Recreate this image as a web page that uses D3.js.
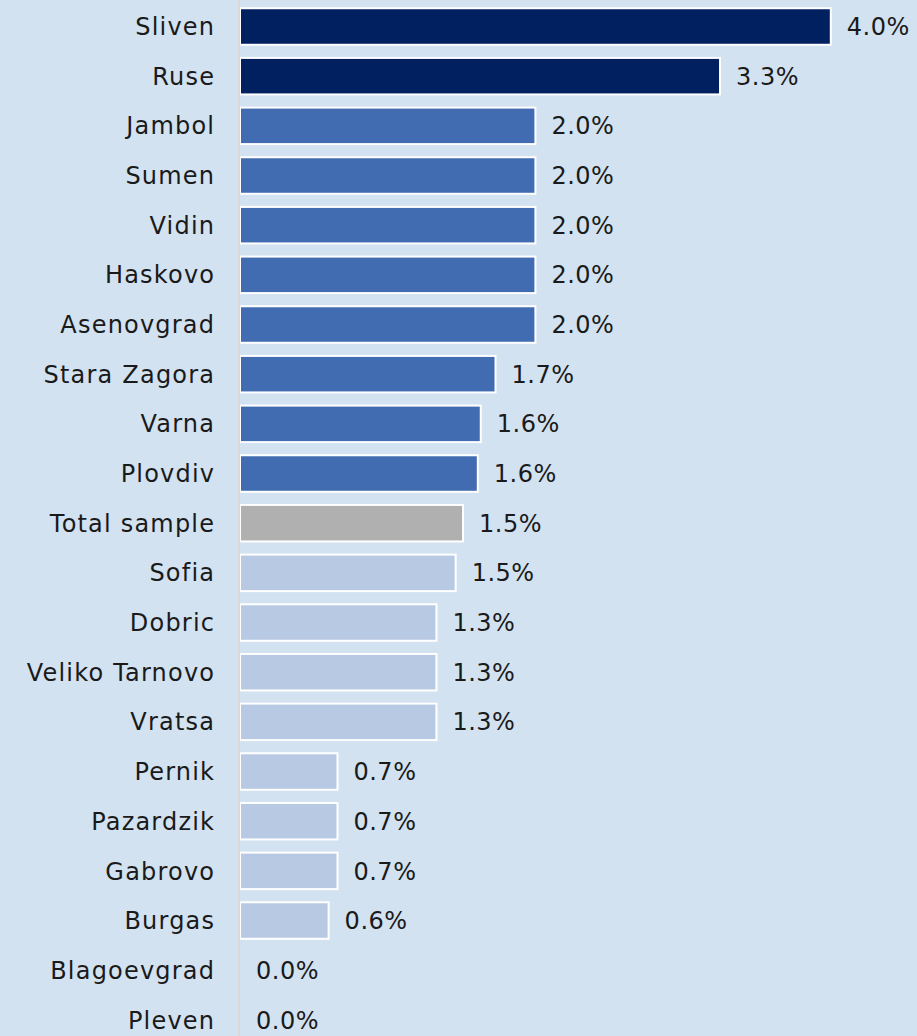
<!DOCTYPE html>
<html>
<head>
<meta charset="utf-8">
<script src="https://cdn.jsdelivr.net/npm/d3@7"></script>
<style>
  html, body { margin: 0; padding: 0; background: #d2e2f1; }
  svg { display: block; }
</style>
</head>
<body>
<svg id="chart" width="917" height="1036"></svg>
<script>
const categories = ["Sliven","Ruse","Jambol","Sumen","Vidin","Haskovo","Asenovgrad","Stara Zagora","Varna","Plovdiv","Total sample","Sofia","Dobric","Veliko Tarnovo","Vratsa","Pernik","Pazardzik","Gabrovo","Burgas","Blagoevgrad","Pleven"];
const values = [4.0,3.25,2.0,2.0,2.0,2.0,2.0,1.73,1.63,1.61,1.51,1.46,1.33,1.33,1.33,0.66,0.66,0.66,0.6,0.0,0.0];
const groups = ["top","top","high","high","high","high","high","high","high","high","total","low","low","low","low","low","low","low","low","low","low"];

const colors = {top: "#002060", high: "#416cb1", total: "#b0b0b0", low: "#b8c9e3"};

const svg = d3.select("#chart");
const W = 917, H = 1036;
svg.append("rect").attr("width", W).attr("height", H).attr("fill", "#d2e2f1");

const x = d3.scaleLinear().domain([0, 4]).range([240, 830.8]);
const y = d3.scaleBand().domain(categories).range([1.67, 1044.7]).paddingInner(0.265).paddingOuter(0.1325);

const data = categories.map((c, i) => ({c, v: values[i], g: groups[i]}));

svg.selectAll("rect.bar").data(data.filter(d => d.v > 0)).join("rect")
  .attr("class", "bar")
  .attr("x", x(0))
  .attr("y", d => y(d.c))
  .attr("width", d => x(d.v) - x(0))
  .attr("height", y.bandwidth())
  .attr("fill", d => colors[d.g])
  .attr("stroke", "#ffffff")
  .attr("stroke-width", 2);

// axis line
svg.append("line")
  .attr("x1", x(0) - 1).attr("x2", x(0) - 1)
  .attr("y1", 0).attr("y2", H)
  .attr("stroke", "#d9d9d9").attr("stroke-width", 2);

const font = "'DejaVu Sans', sans-serif";
const ls = 1.2;

svg.selectAll("text.cat").data(data).join("text")
  .attr("class", "cat")
  .attr("x", 214 + ls)
  .attr("y", d => y(d.c) + y.bandwidth() / 2)
  .attr("dy", "0.36em")
  .attr("text-anchor", "end")
  .attr("font-family", font)
  .attr("font-size", 24)
  .attr("letter-spacing", ls)
  .attr("fill", "#1a1a1a")
  .text(d => d.c);

svg.selectAll("text.val").data(data).join("text")
  .attr("class", "val")
  .attr("x", d => x(d.v) + 16)
  .attr("y", d => y(d.c) + y.bandwidth() / 2)
  .attr("dy", "0.36em")
  .attr("text-anchor", "start")
  .attr("font-family", font)
  .attr("font-size", 24)
  .attr("letter-spacing", 0.5)
  .attr("fill", "#1a1a1a")
  .text(d => d.v.toFixed(1) + "%");
</script>
</body>
</html>
